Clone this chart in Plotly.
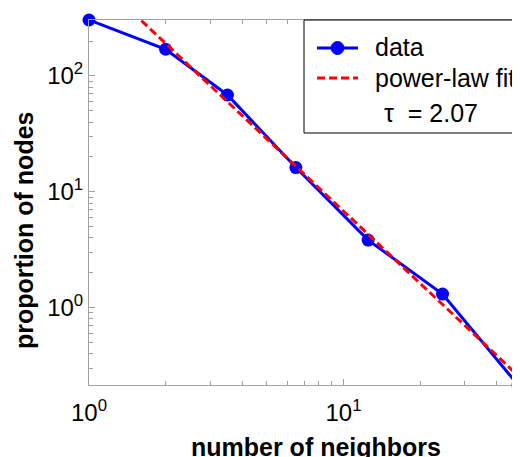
import math
import plotly.graph_objects as go

# data
degree = [1, 2, 3.5, 6.5, 12.5, 24.5, 48.5]
proportion = [304, 170, 68.5, 16.2, 3.83, 1.31, 0.215]

# power-law fit: y = C * x^(-tau)
tau = 2.07
fit_c = 800
fit_x = [1.0, 48.5]
fit_y = [fit_c * x ** (-tau) for x in fit_x]

x_tickvals = [1, 10]
x_ticktext = ["10<sup>0</sup>", "10<sup>1</sup>"]
x_minor = [2, 3, 4, 5, 6, 7, 8, 9, 20, 30, 40]
y_tickvals = [1, 10, 100]
y_ticktext = ["10<sup>0</sup>", "10<sup>1</sup>", "10<sup>2</sup>"]
y_minor = [0.3, 0.4, 0.5, 0.6, 0.7, 0.8, 0.9, 2, 3, 4, 5, 6, 7, 8, 9,
           20, 30, 40, 50, 60, 70, 80, 90, 200, 300]

legend_labels = ["data", "power-law fit", "τ  = 2.07"]

FONT = "Liberation Sans, Arial, sans-serif"
AX = "#a0a0a0"
BLUE = "#0000ff"
RED = "#ff0000"

# the page body adds an 8px offset; size the figure to fill the window
OFF = 8
WIN_W, WIN_H = 520, 457
W, H = WIN_W - OFF, WIN_H - OFF
# plot area in window pixels: x 89..518, y 20..385
PL, PR, PT, PB = 89, 518, 20, 385
ML, MR, MT, MB = PL - OFF, WIN_W - PR, PT - OFF, WIN_H - PB
PW = PR - PL
PH = PB - PT


def px(p):
    return (p - PL) / PW


def py(p):
    return (PB - p) / PH


fig = go.Figure()
fig.add_trace(go.Scatter(
    x=degree, y=proportion, mode="lines+markers", name=legend_labels[0],
    line=dict(color=BLUE, width=3),
    marker=dict(color=BLUE, size=13, symbol="circle"),
    cliponaxis=False, showlegend=False,
))
fig.add_trace(go.Scatter(
    x=fit_x, y=fit_y, mode="lines", name=legend_labels[1],
    line=dict(color=RED, width=3, dash="8px,4px"), showlegend=False,
))

axis_common = dict(
    type="log", showgrid=False, zeroline=False, automargin=False,
    showline=True, linecolor=AX, linewidth=1, mirror="ticks",
    ticks="inside", ticklen=6, tickcolor=AX,
    tickfont=dict(family=FONT, size=24, color="black"),
)

fig.update_xaxes(
    **axis_common,
    range=[0, math.log10(degree[-1])],
    tickmode="array", tickvals=x_tickvals, ticktext=x_ticktext,
    ticklabelstandoff=6,
    minor=dict(tickmode="array", tickvals=x_minor, ticks="inside",
               ticklen=4, tickcolor=AX),
)
fig.update_yaxes(
    **axis_common,
    range=[math.log10(proportion[-1]), math.log10(proportion[0])],
    tickmode="array", tickvals=y_tickvals, ticktext=y_ticktext,
    minor=dict(tickmode="array", tickvals=y_minor, ticks="inside",
               ticklen=4, tickcolor=AX),
)

# axis titles
fig.add_annotation(
    text="<b>number of neighbors</b>", xref="paper", yref="paper",
    x=px(316), y=py(447), xanchor="center", yanchor="middle", showarrow=False,
    font=dict(family=FONT, size=25, color="black"),
)
fig.add_annotation(
    text="<b>proportion of nodes</b>", xref="paper", yref="paper",
    x=px(24), y=py(231), xanchor="center", yanchor="middle", showarrow=False,
    textangle=-90, font=dict(family=FONT, size=25, color="black"),
)

# legend box (drawn by hand to match the original placement)
shapes = [
    dict(type="rect", xref="paper", yref="paper",
         x0=px(304), x1=px(517), y0=py(133), y1=py(20),
         line=dict(color="black", width=1), fillcolor="white", layer="above"),
    dict(type="line", xref="paper", yref="paper",
         x0=px(317), x1=px(358), y0=py(48), y1=py(48),
         line=dict(color=BLUE, width=3), layer="above"),
    dict(type="circle", xref="paper", yref="paper",
         x0=px(331), x1=px(344), y0=py(54.5), y1=py(41.5),
         line=dict(color=BLUE, width=1), fillcolor=BLUE, layer="above"),
    dict(type="line", xref="paper", yref="paper",
         x0=px(317), x1=px(358), y0=py(78), y1=py(78),
         line=dict(color=RED, width=3, dash="8px,4px"), layer="above"),
]
fig.update_layout(shapes=shapes)

for label, xl, yc in [(legend_labels[0], 373, 47),
                      (legend_labels[1], 373, 78),
                      (legend_labels[2], 382, 113)]:
    fig.add_annotation(
        text=label.replace("  ", "&nbsp; "), xref="paper", yref="paper",
        x=px(xl), y=py(yc), xanchor="left", yanchor="middle",
        showarrow=False, font=dict(family=FONT, size=25, color="black"),
    )

fig.update_layout(
    width=W, height=H,
    margin=dict(l=ML, r=MR, t=MT, b=MB),
    paper_bgcolor="white", plot_bgcolor="white",
    showlegend=False,
)

fig.write_html("out.html")
